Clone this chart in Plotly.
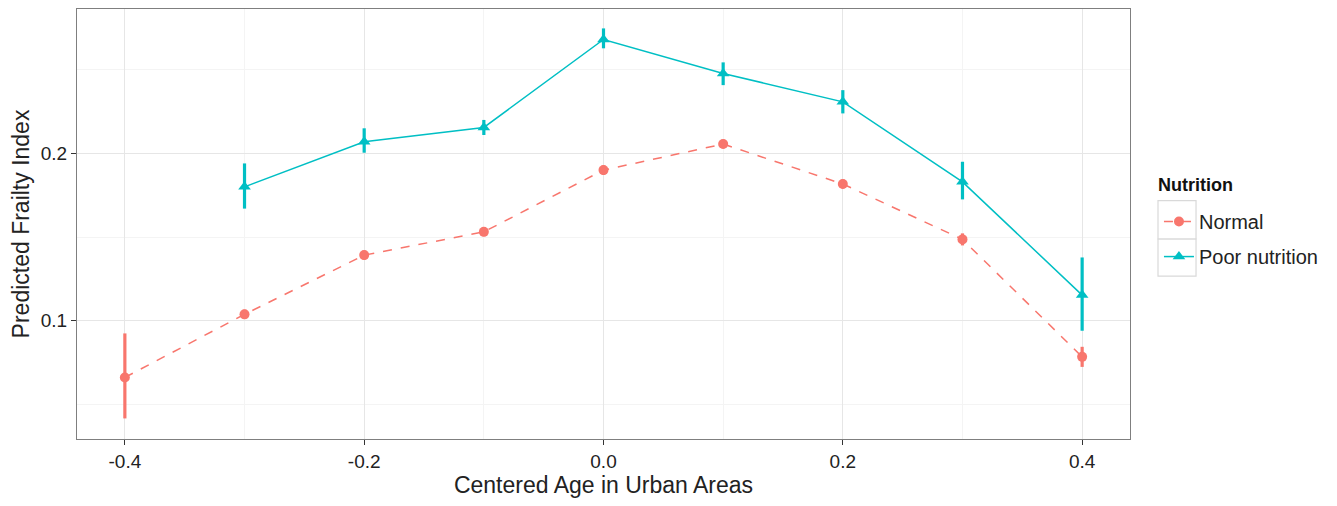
import plotly.graph_objects as go

ages = [-0.4, -0.3, -0.2, -0.1, 0.0, 0.1, 0.2, 0.3, 0.4]
normal_y = [0.0661, 0.1038, 0.1392, 0.1531, 0.1900, 0.2056, 0.1817, 0.1486, 0.0784]
normal_lo = [0.0416, 0.1010, 0.1365, 0.1505, 0.1872, 0.2030, 0.1790, 0.1450, 0.0724]
normal_hi = [0.0924, 0.1066, 0.1419, 0.1557, 0.1928, 0.2082, 0.1844, 0.1522, 0.0844]

poor_x = [-0.3, -0.2, -0.1, 0.0, 0.1, 0.2, 0.3, 0.4]
poor_y = [0.1800, 0.2070, 0.2155, 0.2681, 0.2478, 0.2308, 0.1830, 0.1153]
poor_lo = [0.1670, 0.2004, 0.2110, 0.2628, 0.2408, 0.2239, 0.1725, 0.0940]
poor_hi = [0.1940, 0.2150, 0.2200, 0.2747, 0.2544, 0.2378, 0.1950, 0.1378]

x_ticks = [-0.4, -0.2, 0.0, 0.2, 0.4]
x_tick_labels = ["-0.4", "-0.2", "0.0", "0.2", "0.4"]
y_ticks = [0.1, 0.2]
y_tick_labels = ["0.1", "0.2"]

RED = "#F8766D"
CYAN = "#00BFC4"

fig = go.Figure()

def add_series(xs, ys, lo, hi, color, dash, symbol, size, name):
    fig.add_trace(go.Scatter(
        x=xs, y=ys, mode="lines+markers", name=name, legendgroup=name,
        line=dict(color=color, width=1.5, dash=dash),
        marker=dict(color=color, symbol=symbol, size=size),
        error_y=dict(type="data", symmetric=False,
                     array=[h - v for h, v in zip(hi, ys)],
                     arrayminus=[v - l for v, l in zip(ys, lo)],
                     color=color, thickness=3.2, width=0),
    ))

add_series(ages, normal_y, normal_lo, normal_hi, RED, "dash", "circle", 10, "Normal")
add_series(poor_x, poor_y, poor_lo, poor_hi, CYAN, "solid", "triangle-up", 11, "Poor nutrition")

FONT = "Liberation Sans, Arial, sans-serif"

axis_common = dict(
    showline=True, linecolor="#7f7f7f", linewidth=1.3, mirror=True,
    ticks="outside", ticklen=5, tickcolor="#333333", tickwidth=1,
    gridcolor="#e6e6e6", gridwidth=1.2, zeroline=False,
    tickfont=dict(family=FONT, size=19, color="#222222"),
    minor=dict(showgrid=True, gridcolor="#f4f4f4", gridwidth=1),
)

fig.update_layout(
    width=1321, height=490,
    margin=dict(l=69, r=199, t=1, b=59),
    plot_bgcolor="white", paper_bgcolor="white",
    font=dict(family=FONT, color="#222222"),
    xaxis=dict(range=[-0.44, 0.44], tickvals=x_ticks, ticktext=x_tick_labels,
               title=dict(text="Centered Age in Urban Areas", font=dict(size=23), standoff=4),
               **axis_common),
    yaxis=dict(range=[0.0293, 0.2863], tickvals=y_ticks, ticktext=y_tick_labels,
               title=dict(text="Predicted Frailty Index", font=dict(size=23), standoff=4),
               **axis_common),
    legend=dict(
        x=1.0275, y=0.551, xanchor="left", yanchor="top",
        font=dict(size=20), tracegroupgap=6, itemwidth=30,
        bgcolor="rgba(0,0,0,0)",
    ),
    annotations=[
        dict(text="<b>Nutrition</b>", xref="paper", yref="paper", x=1.0247, y=0.5907,
             xanchor="left", yanchor="middle", showarrow=False,
             font=dict(family=FONT, size=18, color="#111111")),
    ],
    shapes=[
        dict(type="rect", xref="paper", yref="paper", x0=1.0266, x1=1.0627,
             y0=0.4651, y1=0.5542, line=dict(color="#d9d9d9", width=1.2)),
        dict(type="rect", xref="paper", yref="paper", x0=1.0266, x1=1.0627,
             y0=0.379, y1=0.4651, line=dict(color="#d9d9d9", width=1.2)),
    ],
)
fig.update_xaxes(minor=dict(tickvals=[-0.3, -0.1, 0.1, 0.3]))
fig.update_yaxes(minor=dict(tickvals=[0.05, 0.15, 0.25]))

fig.write_html("out.html")
